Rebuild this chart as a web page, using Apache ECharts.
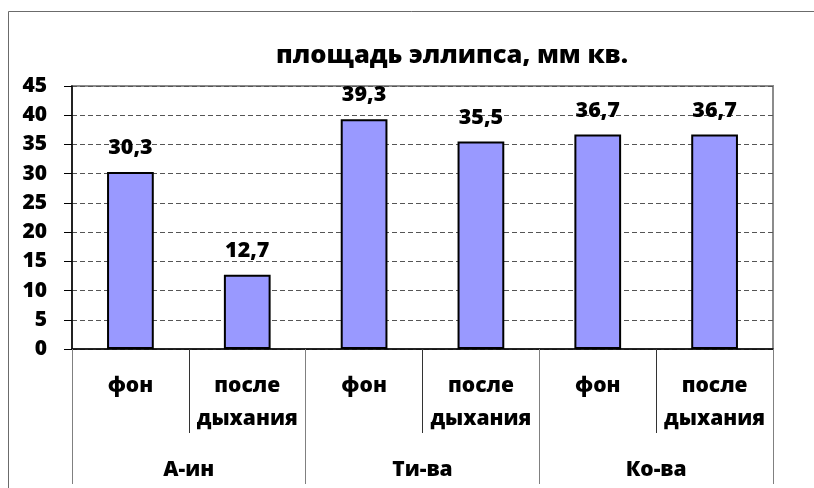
<!DOCTYPE html>
<html>
<head>
<meta charset="utf-8">
<script src="https://cdn.jsdelivr.net/npm/echarts@6/dist/echarts.min.js"></script>
<style>
  html, body { margin: 0; padding: 0; background: #fff; }
  #chart { width: 814px; height: 488px; }
</style>
</head>
<body>
<div id="chart"></div>
<script>
// данные диаграммы
const subLabels = ['фон', 'после\nдыхания', 'фон', 'после\nдыхания', 'фон', 'после\nдыхания']
const groupLabels = ['А-ин', 'Ти-ва', 'Ко-ва']
const areaValues = [30.3, 12.7, 39.3, 35.5, 36.7, 36.7]

const font = '"Open Sans", "DejaVu Sans", sans-serif'
const heavy = 800

let myChart = echarts.init(document.getElementById('chart'))

let option = {
    animation: false,
    textStyle: { fontFamily: font },
    title: {
        text: 'площадь эллипса, мм кв.',
        left: 447,
        textAlign: 'center',
        top: 38,
        textStyle: { fontFamily: font, fontSize: 25.5, fontWeight: heavy, color: '#000' }
    },
    // внешняя рамка диаграммы
    graphic: [{
        type: 'rect',
        shape: { x: 8.5, y: 11.5, width: 900, height: 600 },
        style: { fill: 'none', stroke: '#6b6b6b', lineWidth: 1 },
        silent: true
    }],
    grid: {
        left: 72, right: 41, top: 86, bottom: 139,
        show: true,
        borderColor: '#8c8c8c',
        borderWidth: 2
    },
    xAxis: [{
        type: 'category',
        data: subLabels,
        axisLine: { lineStyle: { color: '#000', width: 1.5 } },
        axisTick: { show: true, length: 84, interval: 0, lineStyle: { color: '#333', width: 1 } },
        axisLabel: {
            interval: 0,
            margin: 21,
            fontSize: 21,
            fontWeight: heavy,
            lineHeight: 33,
            color: '#000',
            fontFamily: font
        }
    }, {
        type: 'category',
        data: groupLabels,
        position: 'bottom',
        axisLine: { show: false },
        axisTick: { show: true, length: 135, interval: 0, lineStyle: { color: '#808080', width: 1 } },
        axisLabel: {
            interval: 0,
            margin: 111,
            fontSize: 21,
            fontWeight: heavy,
            color: '#000',
            fontFamily: font
        }
    }],
    yAxis: {
        type: 'value',
        min: 0,
        max: 45,
        interval: 5,
        axisLine: { show: true, lineStyle: { color: '#000', width: 1.5 } },
        axisTick: { show: true, length: 8, lineStyle: { color: '#000' } },
        axisLabel: {
            margin: 25,
            fontSize: 21,
            fontWeight: heavy,
            color: '#000',
            fontFamily: font
        },
        splitLine: { lineStyle: { type: [5, 3], color: '#555', width: 1 } }
    },
    series: [{
        type: 'bar',
        data: areaValues,
        barWidth: '40%',
        itemStyle: { color: '#9999ff', borderColor: '#000', borderWidth: 2 },
        label: {
            show: true,
            position: 'top',
            distance: 13,
            fontSize: 21.5,
            fontWeight: heavy,
            color: '#000',
            fontFamily: font,
            formatter: p => p.value.toFixed(1).replace('.', ',')
        }
    }]
}

myChart.setOption(option)
</script>
</body>
</html>
